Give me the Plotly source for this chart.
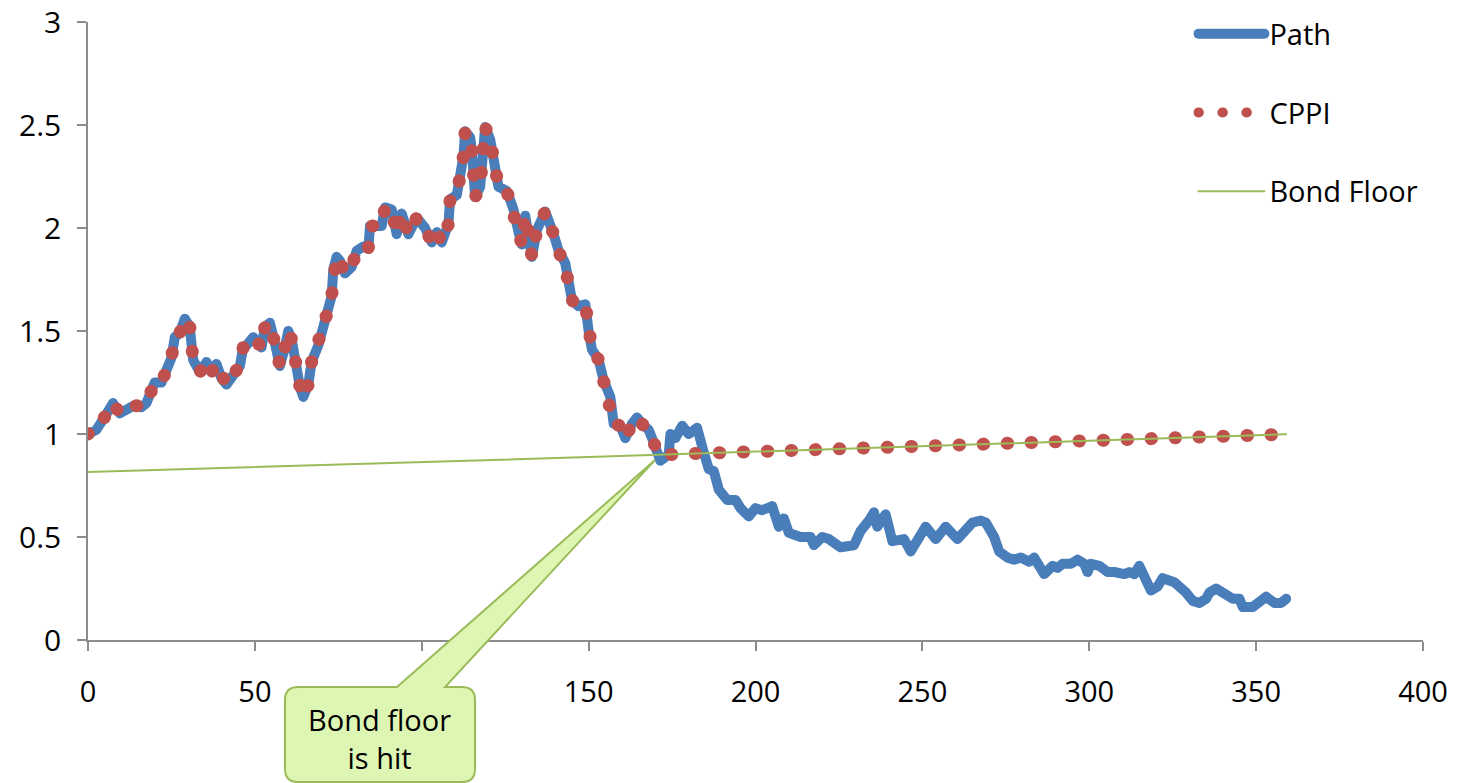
import plotly.graph_objects as go

# ---- data ----
path_x = [0, 2.5, 4.5, 7.5, 9.5, 12, 14, 16, 17.5, 19, 20, 22, 23.5, 25, 26, 27.5, 29, 30.5, 31.5,
          33.5, 35.5, 37, 38.5, 40, 41.5, 43.5, 45.5, 46.5, 47.5, 49.5, 52, 53, 54.5, 56, 57.5, 59,
          60, 61, 62, 63.5, 64.5, 66, 67, 69, 71, 73, 73.5, 74.5, 75.5, 77, 79, 80.5, 82.5, 84,
          84.5, 88, 89, 91, 92.5, 94, 96, 98.5, 101, 103, 104.5, 106, 108, 108.5, 110.5, 111.5,
          112.5, 113, 114.5, 115, 115.5, 116, 117.5, 118.5, 119, 120.5, 122, 123, 125.5, 127.5,
          129, 130, 131, 132, 133, 134.5, 137, 139.5, 141, 143, 144, 145, 147, 149, 150, 151, 153,
          154.5, 156.5, 157.5, 159.5, 161, 163, 164.5, 166.5, 168, 169, 170, 171.5, 174, 174.5,
          176, 178, 180, 181, 182.5, 184.5, 186, 187.5, 189, 191.5, 194, 195.5, 198, 200, 202,
          205, 207, 208.5, 210, 213.5, 216.5, 217.5, 220, 222, 225.5, 229.5, 231.5, 234, 235.5,
          236.5, 239, 241, 244.5, 246.5, 249, 251, 254, 257, 260.5, 263, 265, 267.5, 269, 271.5,
          273, 275.5, 277.5, 279.5, 282, 283.5, 286.5, 289, 290.5, 292, 294.5, 296.5, 298.5,
          299.5, 300.5, 303, 305.5, 307.5, 310.5, 312, 313.5, 315, 316.5, 318.5, 320.5, 322,
          325.5, 327, 329, 331, 333, 335, 336, 338, 340, 343, 345, 346, 349, 351, 353, 355.5,
          357.5, 359]
path_y = [1.00, 1.02, 1.07, 1.15, 1.10, 1.12, 1.14, 1.13, 1.15, 1.21, 1.25, 1.25, 1.31, 1.37, 1.47,
          1.49, 1.56, 1.52, 1.36, 1.30, 1.35, 1.30, 1.34, 1.27, 1.24, 1.29, 1.33, 1.42, 1.43, 1.47,
          1.42, 1.52, 1.54, 1.44, 1.33, 1.42, 1.50, 1.46, 1.34, 1.23, 1.18, 1.24, 1.35, 1.43, 1.55,
          1.67, 1.80, 1.86, 1.84, 1.78, 1.81, 1.89, 1.91, 1.90, 2.01, 2.01, 2.10, 2.09, 1.97, 2.07,
          1.97, 2.05, 2.00, 1.93, 1.98, 1.93, 2.02, 2.14, 2.16, 2.23, 2.35, 2.47, 2.44, 2.38, 2.27,
          2.15, 2.20, 2.36, 2.49, 2.43, 2.31, 2.20, 2.18, 2.09, 1.98, 1.92, 2.06, 1.98, 1.86, 1.99,
          2.08, 1.97, 1.89, 1.83, 1.74, 1.65, 1.62, 1.63, 1.50, 1.41, 1.36, 1.26, 1.18, 1.05, 1.04,
          0.98, 1.05, 1.08, 1.04, 1.02, 0.98, 0.92, 0.87, 0.90, 1.00, 0.98, 1.04, 1.00, 1.01, 1.03,
          0.91, 0.83, 0.82, 0.73, 0.68, 0.68, 0.64, 0.60, 0.64, 0.63, 0.65, 0.55, 0.59, 0.52, 0.50,
          0.50, 0.46, 0.50, 0.49, 0.45, 0.46, 0.53, 0.58, 0.62, 0.55, 0.61, 0.48, 0.49, 0.43, 0.50,
          0.55, 0.49, 0.55, 0.49, 0.54, 0.57, 0.58, 0.57, 0.50, 0.43, 0.40, 0.39, 0.40, 0.38, 0.40,
          0.32, 0.36, 0.35, 0.37, 0.37, 0.39, 0.37, 0.33, 0.37, 0.36, 0.33, 0.33, 0.32, 0.33, 0.32,
          0.36, 0.31, 0.24, 0.26, 0.30, 0.28, 0.26, 0.23, 0.19, 0.18, 0.20, 0.23, 0.25, 0.23, 0.20,
          0.20, 0.16, 0.16, 0.18, 0.21, 0.18, 0.18, 0.20]

floor_x = [0, 30, 60, 90, 120, 150, 180, 210, 240, 270, 300, 330, 359]
floor_y = [0.816, 0.830, 0.844, 0.858, 0.873, 0.888, 0.904, 0.919, 0.935, 0.951, 0.967, 0.983, 0.999]

hit_x = 171          # where CPPI meets the bond floor
hit_y = 0.898

# CPPI: follows the path until the floor is hit, then sits on the floor
cppi_x = [x for x in path_x if x <= 170] + [hit_x] + [x for x in floor_x if x > hit_x]
cppi_y = [y for x, y in zip(path_x, path_y) if x <= 170] + [hit_y] + \
         [y for x, y in zip(floor_x, floor_y) if x > hit_x]

x_ticks = [0, 50, 100, 150, 200, 250, 300, 350, 400]
y_ticks = [0, 0.5, 1, 1.5, 2, 2.5, 3]
y_tick_text = ["0", "0.5", "1", "1.5", "2", "2.5", "3"]

BLUE = "#4a7ebb"
RED = "#c0504d"
GREEN = "#9bbb59"
AXIS = "#8c8c8c"
FONT = "Open Sans, Noto Sans, sans-serif"

fig = go.Figure()
fig.add_trace(go.Scatter(x=path_x, y=path_y, mode="lines", name="Path", legendgroup="a",
                         line=dict(color=BLUE, width=10)))
fig.add_trace(go.Scatter(x=cppi_x, y=cppi_y, mode="lines", name="CPPI", legendgroup="b",
                         line=dict(color=RED, width=13, dash="0.5px,23.5px")))
fig.add_trace(go.Scatter(x=floor_x, y=floor_y, mode="lines", name="Bond Floor", legendgroup="c",
                         line=dict(color=GREEN, width=2)))

# callout ("Bond floor is hit") in paper coordinates
W, H, L, T = 1335.0, 618.0, 88.0, 22.0
def px(v):
    return (v - L) / W
def py(v):
    return (T + H - v) / H

x0, x1 = px(285), px(475)
yt, yb = py(687), py(782)
bx0, bx1 = px(397), px(445)
tx, ty = px(655), py(460)
rx, ry = 13 / W, 13 / H
d = (f"M{x0+rx},{yt} L{bx0},{yt} L{tx},{ty} L{bx1},{yt} L{x1-rx},{yt} "
     f"Q{x1},{yt} {x1},{yt-ry} L{x1},{yb+ry} Q{x1},{yb} {x1-rx},{yb} "
     f"L{x0+rx},{yb} Q{x0},{yb} {x0},{yb+ry} L{x0},{yt-ry} Q{x0},{yt} {x0+rx},{yt} Z")
fig.add_shape(type="path", path=d, xref="paper", yref="paper",
              fillcolor="#def6b4", line=dict(color=GREEN, width=2), layer="above")
fig.add_annotation(x=px(379), y=py(738), xref="paper", yref="paper",
                   xanchor="center", yanchor="middle",
                   text="Bond floor<br>is hit", showarrow=False,
                   font=dict(family=FONT, size=29, color="black"))

fig.update_layout(
    width=1468, height=783,
    margin=dict(l=88, r=45, t=22, b=143, autoexpand=False),
    paper_bgcolor="white", plot_bgcolor="white",
    font=dict(family=FONT, size=30, color="black"),
    showlegend=True,
    legend=dict(x=0.828, y=1.022, xanchor="left", yanchor="top", bgcolor="rgba(0,0,0,0)",
                font=dict(family=FONT, size=29, color="black"),
                itemwidth=66, tracegroupgap=38, traceorder="grouped"),
    xaxis=dict(range=[0, 400], tickvals=x_ticks, showgrid=False, zeroline=False,
               showline=True, linecolor=AXIS, linewidth=1.5,
               ticks="outside", ticklen=9, tickcolor=AXIS, tickwidth=1.5,
               ticklabelstandoff=16,
               tickfont=dict(family=FONT, size=29)),
    yaxis=dict(range=[0, 3], tickvals=y_ticks, ticktext=y_tick_text, showgrid=False,
               zeroline=False, showline=True, linecolor=AXIS, linewidth=1.5,
               ticks="outside", ticklen=9, tickcolor=AXIS, tickwidth=1.5,
               ticklabelstandoff=10, tickfont=dict(family=FONT, size=30)),
)

post_js = """
var gd = document.getElementById('{plot_id}');
function roundLines(){
  var ps = gd.querySelectorAll('path.js-line');
  for (var i = 0; i < ps.length; i++) {
    ps[i].style.strokeLinecap = 'round';
    ps[i].style.strokeLinejoin = 'round';
  }
}
roundLines();
if (gd.on) { gd.on('plotly_afterplot', roundLines); }
"""

fig.write_html("out.html", post_script=post_js)
